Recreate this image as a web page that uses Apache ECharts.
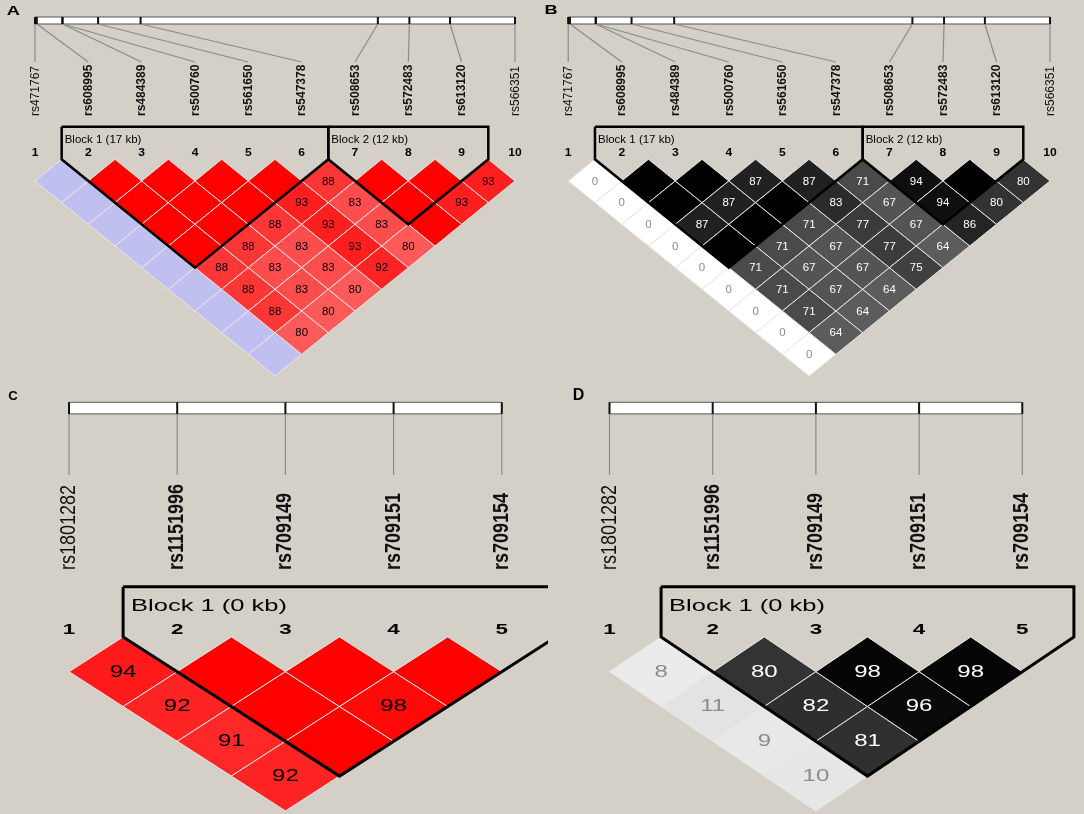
<!DOCTYPE html>
<html><head><meta charset="utf-8">
<script src="https://cdn.jsdelivr.net/npm/echarts@6/dist/echarts.min.js"></script>
<style>html,body{margin:0;padding:0;background:#d4d0c8}#chart{width:1084px;height:814px}</style>
</head><body><div id="chart"></div>
<script>
// ---------------- DATA ----------------
const snpsAB = ['rs471767','rs608995','rs484389','rs500760','rs561650','rs547378','rs508653','rs572483','rs613120','rs566351'];
const posKbAB = [0, 0.3, 4.5, 4.55, 10.4, 17.4, 56.5, 61.7, 68.4, 79.1];
const blockStartAB = [2, 7];
const blockEndAB = [6, 9];
const blockLabelsAB = ['Block 1 (17 kb)', 'Block 2 (12 kb)'];
// Panel A: D' x100, row i = SNP i, entries for j = i+1..10
const dprimeA = [
  [100,100,100,100,100,100,100,100,100],
  [100,100,100,100,88,88,88,80],
  [100,100,100,88,83,83,80],
  [100,100,88,83,83,80],
  [100,93,93,93,92],
  [88,83,83,80],
  [100,100,100],
  [100,93],
  [93]
];
// Panel A: pairs with LOD < 2
const lowLodPairsA = [[1,2],[1,3],[1,4],[1,5],[1,6],[1,7],[1,8],[1,9],[1,10]];
// Panel B: r^2 x100
const r2B = [
  [0,0,0,0,0,0,0,0,0],
  [100,100,87,100,71,71,71,64],
  [100,87,100,71,67,67,64],
  [87,100,71,67,67,64],
  [87,83,77,77,75],
  [71,67,67,64],
  [94,94,86],
  [100,80],
  [80]
];
const snpsCD = ['rs1801282','rs1151996','rs709149','rs709151','rs709154'];
const posKbCD = [0, 0.1, 0.2, 0.3, 0.4];
const blockStartCD = [2];
const blockEndCD = [5];
const blockLabelsCD = ['Block 1 (0 kb)'];
const dprimeC = [[94,92,91,92],[100,100,100],[100,98],[100]];
const lowLodPairsC = [];
const r2D = [[8,11,9,10],[80,82,81],[98,96],[98]];
const panelLetters = ['A','B','C','D'];

// ---------------- LAYOUT / STYLE ----------------
const W = 1084, H = 814;
const FONT = "'Liberation Sans', Arial, sans-serif";
const common = {
  AB: {base:159.3, h:21.67, top:115, bottom:400, barTop:17, barBottom:24, lineEnd:62, labelBottom:116,
       labelFont:12, labelScale:1.12, cellFont:11.5, cellScale:1.0, numFont:11, numScale:1.1, numOffset:-6,
       blockFont:11.5, blockScale:1.0, blockTopK:-1.5, blockLabelK:-0.89, blockLabelDx:3, outlineWidth:2.5},
  CD: {base:636.9, h:34.8, top:578, bottom:814, barTop:402.3, barBottom:413.9, lineEnd:475, labelBottom:570,
       labelFont:18, labelScale:1.22, cellFont:16, cellScale:1.5, numFont:14, numScale:1.6, numOffset:-7,
       blockFont:17, blockScale:1.5, blockTopK:-1.44, blockLabelK:-0.89, blockLabelDx:8, outlineWidth:3}
};
const panels = [
  Object.assign({snps:snpsAB, pos:posKbAB, bs:blockStartAB, be:blockEndAB, bl:blockLabelsAB, matrix:dprimeA, scheme:'dprime', lowLod:lowLodPairsA,
    x1:35, step:53.33, left:0, right:540}, common.AB),
  Object.assign({snps:snpsAB, pos:posKbAB, bs:blockStartAB, be:blockEndAB, bl:blockLabelsAB, matrix:r2B, scheme:'r2', lowLod:[],
    x1:568.2, step:53.54, left:542, right:1084}, common.AB),
  Object.assign({snps:snpsCD, pos:posKbCD, bs:blockStartCD, be:blockEndCD, bl:blockLabelsCD, matrix:dprimeC, scheme:'dprime', lowLod:lowLodPairsC,
    x1:69, step:108.2, left:0, right:548}, common.CD),
  Object.assign({snps:snpsCD, pos:posKbCD, bs:blockStartCD, be:blockEndCD, bl:blockLabelsCD, matrix:r2D, scheme:'r2', lowLod:[],
    x1:609.5, step:103.2, left:552, right:1084}, common.CD)
];

function cellColor(scheme, v, weak) {
  if (scheme === 'dprime') {
    if (weak) return v >= 100 ? '#c0c0f0' : '#ffffff';
    if (v >= 100) return '#ff0000';
    const g = Math.round(Math.min(255, 223 * 2 * (1 - v / 100)));
    return 'rgb(255,' + g + ',' + g + ')';
  }
  const g = Math.round(255 * (1 - v / 100));
  return 'rgb(' + g + ',' + g + ',' + g + ')';
}
function textColor(scheme, v) { return scheme === 'dprime' ? '#000' : (v >= 50 ? '#ffffff' : '#8c8c8c'); }
function showText(scheme, v, weak) { return scheme === 'dprime' ? (!weak && v < 100) : v < 100; }
function inBlock(p, i) { return p.bs.some((s, b) => i >= s && i <= p.be[b]); }

const grids = [], xAxes = [], yAxes = [], series = [];
panels.forEach((p) => {
  const n = p.snps.length;
  const gT = grids.length;
  grids.push({left:p.left, top:p.top, width:p.right - p.left, height:p.bottom - p.top});
  xAxes.push({type:'value', gridIndex:gT, min:1 + (p.left - p.x1) / p.step, max:1 + (p.right - p.x1) / p.step, show:false});
  yAxes.push({type:'value', gridIndex:gT, inverse:true, min:(p.top - p.base) / p.h, max:(p.bottom - p.base) / p.h, show:false});
  const gH = grids.length;
  grids.push({left:p.x1, top:0, width:p.step * (n - 1), height:H});
  xAxes.push({type:'value', gridIndex:gH, min:p.pos[0], max:p.pos[n - 1], show:false});
  yAxes.push({type:'value', gridIndex:gH, inverse:true, min:0, max:H, show:false});

  // cells
  const cells = [];
  p.matrix.forEach((row, ii) => row.forEach((v, jj) => {
    const i = ii + 1, j = i + 1 + jj;
    const weak = p.lowLod.some(q => q[0] === i && q[1] === j) ? 1 : 0;
    cells.push([i, j, v, weak]);
  }));
  series.push({
    type:'custom', xAxisIndex:gT, yAxisIndex:gT, z:2, silent:true, data:cells, encode:{x:0, y:1},
    renderItem: function (params, api) {
      const i = api.value(0), j = api.value(1), v = api.value(2), weak = api.value(3);
      const cx = (i + j) / 2, k = j - i;
      const pts = [[cx - 0.5, k], [cx, k - 1], [cx + 0.5, k], [cx, k + 1]].map(q => api.coord(q));
      const c = api.coord([cx, k]);
      const ch = [{type:'polygon', shape:{points:pts}, style:{fill:cellColor(p.scheme, v, weak), stroke:'#e9e7e3', lineWidth:1}}];
      if (showText(p.scheme, v, weak)) {
        ch.push({type:'text', x:c[0], y:c[1] + 0.5, scaleX:p.cellScale,
          style:{text:String(v), fill:textColor(p.scheme, v), fontSize:p.cellFont, fontFamily:FONT, align:'center', verticalAlign:'middle'}});
      }
      return {type:'group', children:ch};
    }
  });

  // block outlines
  series.push({
    type:'custom', xAxisIndex:gT, yAxisIndex:gT, z:4, silent:true, clip:true,
    data:p.bs.map((s, b) => [s, p.be[b]]), encode:{x:0, y:1},
    renderItem: function (params, api) {
      const s = api.value(0), e = api.value(1);
      const pts = [[s - 0.5, p.blockTopK], [s - 0.5, 0], [(s + e) / 2, e - s + 1], [e + 0.5, 0], [e + 0.5, p.blockTopK], [s - 0.5, p.blockTopK]].map(q => api.coord(q));
      const lp = api.coord([s - 0.5, p.blockLabelK]);
      return {type:'group', children:[
        {type:'polyline', shape:{points:pts}, style:{stroke:'#000', lineWidth:p.outlineWidth, fill:null, lineJoin:'miter'}},
        {type:'text', x:lp[0] + p.blockLabelDx, y:lp[1], scaleX:p.blockScale,
          style:{text:p.bl[params.dataIndex], fill:'#000', fontSize:p.blockFont, fontFamily:FONT, align:'left', verticalAlign:'middle'}}
      ]};
    }
  });

  // SNP index numbers
  series.push({
    type:'custom', xAxisIndex:gT, yAxisIndex:gT, z:3, silent:true,
    data:p.snps.map((s, i) => [i + 1, 0]), encode:{x:0, y:1},
    renderItem: function (params, api) {
      const c = api.coord([api.value(0), 0]);
      return {type:'text', x:c[0], y:c[1] + p.numOffset, scaleX:p.numScale,
        style:{text:String(api.value(0)), fill:'#000', fontSize:p.numFont, fontWeight:'bold', fontFamily:FONT, align:'center', verticalAlign:'middle'}};
    }
  });

  // header bar
  series.push({
    type:'custom', xAxisIndex:gH, yAxisIndex:gH, z:2, silent:true,
    data:[[p.pos[0], 0]], encode:{x:0, y:1},
    renderItem: function (params, api) {
      const a = api.coord([p.pos[0], p.barTop]), b = api.coord([p.pos[n - 1], p.barBottom]);
      return {type:'rect', shape:{x:a[0], y:a[1], width:b[0] - a[0], height:b[1] - a[1]}, style:{fill:'#ffffff', stroke:'#555', lineWidth:1}};
    }
  });
  // header ticks, connectors, labels
  series.push({
    type:'custom', xAxisIndex:gH, yAxisIndex:gH, z:3, silent:true,
    data:p.pos.map((kb, i) => [kb, i]), encode:{x:0, y:1},
    renderItem: function (params, api) {
      const idx = params.dataIndex, kb = api.value(0);
      const kbLab = p.pos[0] + idx / (n - 1) * (p.pos[n - 1] - p.pos[0]);
      const t = api.coord([kb, p.barTop]), b = api.coord([kb, p.barBottom]);
      const e = api.coord([kbLab, p.lineEnd]), l = api.coord([kbLab, p.labelBottom]);
      return {type:'group', children:[
        {type:'line', shape:{x1:b[0], y1:b[1], x2:e[0], y2:e[1]}, style:{stroke:'#8a8a8a', lineWidth:1.2}},
        {type:'line', shape:{x1:t[0], y1:t[1], x2:b[0], y2:b[1]}, style:{stroke:'#111', lineWidth:2}},
        {type:'text', x:l[0], y:l[1], rotation:Math.PI / 2, scaleY:p.labelScale,
          style:{text:p.snps[idx], fill:'#111', fontSize:p.labelFont, fontWeight:inBlock(p, idx + 1) ? 'bold' : 'normal', fontFamily:FONT, align:'left', verticalAlign:'middle'}}
      ]};
    }
  });
});

const letterPos = [[13.3, 11.7, 13, 1.4], [551, 10.5, 13, 1.4], [13, 396.6, 12, 1.1], [578.5, 396, 16, 1.0]];
const graphic = panelLetters.map((t, i) => ({type:'text', x:letterPos[i][0], y:letterPos[i][1], scaleX:letterPos[i][3],
  style:{text:t, fill:'#000', fontSize:letterPos[i][2], fontWeight:'bold', fontFamily:FONT, align:'center', verticalAlign:'middle'}}));

const chart = echarts.init(document.getElementById('chart'), null, {renderer:'canvas'});
chart.setOption({
  backgroundColor:'#d4d0c8', animation:false,
  grid:grids, xAxis:xAxes, yAxis:yAxes, series:series, graphic:graphic
});
</script></body></html>
